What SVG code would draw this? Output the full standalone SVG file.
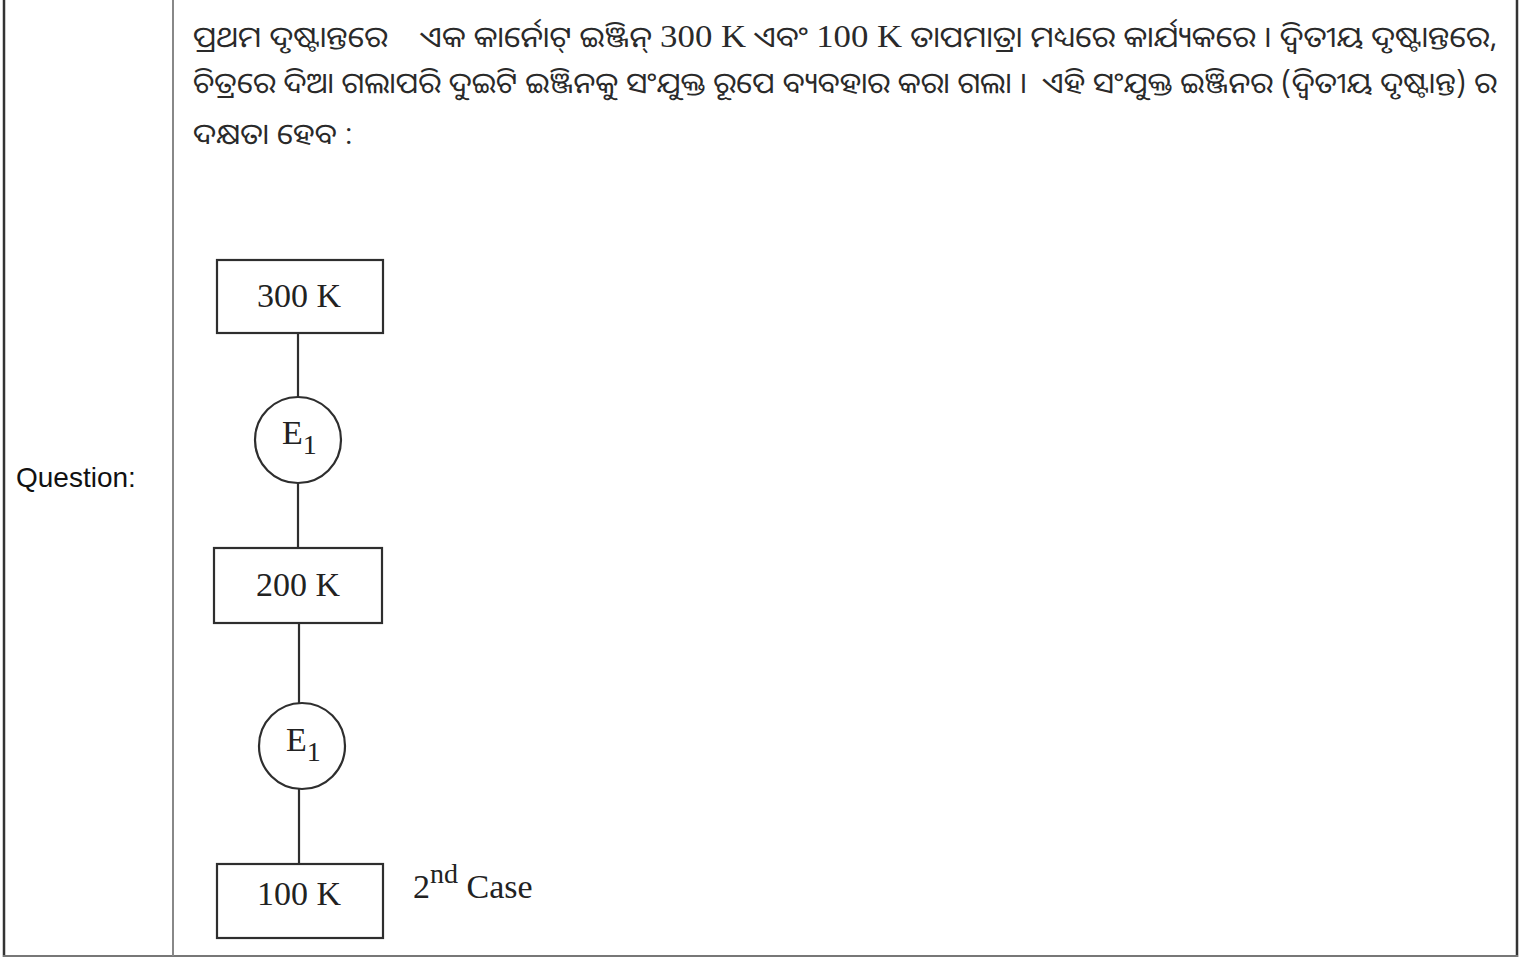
<svg xmlns="http://www.w3.org/2000/svg" width="1527" height="958" viewBox="0 0 1527 958">
<style>
.odia{font-family:"Noto Sans Oriya","Noto Sans","DejaVu Sans",sans-serif;font-size:29px;fill:#2a2a2a;white-space:pre}
.lat{font-family:"Liberation Serif","Times New Roman",serif;font-size:32px}
.lbl{font-family:"Liberation Serif","Times New Roman",serif;font-size:34px;fill:#222}
.box{fill:#fff;stroke:#2e2e2e;stroke-width:2.2}
.conn{stroke:#2e2e2e;stroke-width:2.2;fill:none}
</style>
<rect x="0" y="0" width="1527" height="958" fill="#fff"/>
<g id="table">
<line x1="4" y1="0" x2="4" y2="957" stroke="#333" stroke-width="2.5"/>
<line x1="1517" y1="0" x2="1517" y2="957" stroke="#333" stroke-width="2.5"/>
<line x1="3" y1="956" x2="1518" y2="956" stroke="#777" stroke-width="2"/>
<line x1="173" y1="0" x2="173" y2="956" stroke="#888" stroke-width="2"/>
<text x="16" y="487" font-family="Liberation Sans,Arial,sans-serif" font-size="28" fill="#111">Question:</text>
</g>
<g id="question-text">
<text class="odia" xml:space="preserve" x="193" y="47" textLength="1304" lengthAdjust="spacingAndGlyphs">ପ୍ରଥମ ଦୃଷ୍ଟାନ୍ତରେ    ଏକ କାର୍ନୋଟ୍ ଇଞ୍ଜିନ୍ <tspan class="lat">300 K</tspan> ଏବଂ <tspan class="lat">100 K</tspan> ତାପମାତ୍ରା ମଧ୍ୟରେ କାର୍ଯ୍ୟକରେ । ଦ୍ୱିତୀୟ ଦୃଷ୍ଟାନ୍ତରେ,</text>
<text class="odia" xml:space="preserve" x="193" y="93" textLength="1304" lengthAdjust="spacingAndGlyphs">ଚିତ୍ରରେ ଦିଆ ଗଲାପରି ଦୁଇଟି ଇଞ୍ଜିନକୁ ସଂଯୁକ୍ତ ରୂପେ ବ୍ୟବହାର କରା ଗଲା ।  ଏହି ସଂଯୁକ୍ତ ଇଞ୍ଜିନର (ଦ୍ୱିତୀୟ ଦୃଷ୍ଟାନ୍ତ) ର</text>
<text class="odia" x="193" y="144" textLength="160" lengthAdjust="spacingAndGlyphs">ଦକ୍ଷତା ହେବ :</text>
</g>
<g id="connectors">
<line class="conn" x1="298" y1="333" x2="298" y2="397"/>
<line class="conn" x1="298" y1="483" x2="298" y2="548"/>
<line class="conn" x1="299" y1="623" x2="299" y2="704"/>
<line class="conn" x1="299" y1="787" x2="299" y2="864"/>
</g>
<g id="node-300K">
<rect class="box" x="217" y="260" width="166" height="73"/>
<text class="lbl" x="299" y="307" text-anchor="middle">300 K</text>
</g>
<g id="node-E1-top">
<circle class="box" cx="298" cy="440" r="43"/>
<text class="lbl" x="282" y="444">E<tspan font-size="28" dy="10">1</tspan></text>
</g>
<g id="node-200K">
<rect class="box" x="214" y="548" width="168" height="75"/>
<text class="lbl" x="298" y="596" text-anchor="middle">200 K</text>
</g>
<g id="node-E1-bottom">
<circle class="box" cx="302" cy="746" r="43"/>
<text class="lbl" x="286" y="751">E<tspan font-size="28" dy="10">1</tspan></text>
</g>
<g id="node-100K">
<rect class="box" x="217" y="864" width="166" height="74"/>
<text class="lbl" x="299" y="905" text-anchor="middle">100 K</text>
</g>
<g id="caption">
<text class="lbl" x="413" y="898" font-size="36">2<tspan font-size="28" dy="-15">nd</tspan><tspan dy="15"> Case</tspan></text>
</g>
</svg>
